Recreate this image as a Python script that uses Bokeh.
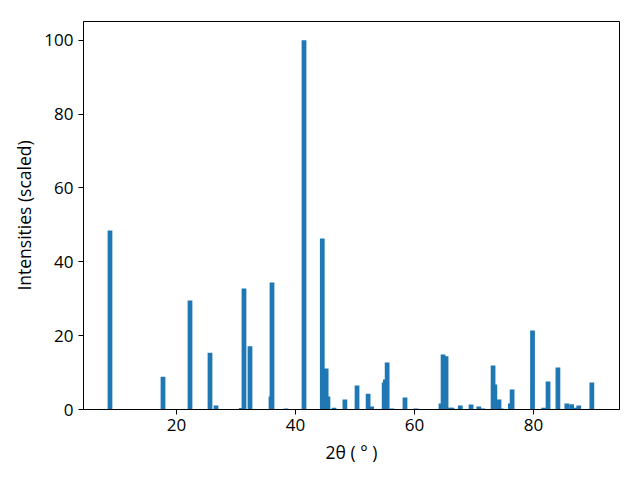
from bokeh.plotting import figure
from bokeh.models import Range1d, FixedTicker
from bokeh.embed import file_html
from bokeh.resources import INLINE

two_theta = [8.82, 17.73, 22.27, 25.63, 26.64, 30.9, 31.34, 32.35, 35.88, 36.05,
             38.4, 41.43, 44.5, 45.15, 45.45, 46.47, 48.3, 50.34, 52.2, 52.8,
             54.9, 55.1, 55.4, 56.2, 58.4, 60.25, 64.45, 64.8, 65.3, 66.0,
             66.3, 67.7, 69.5, 70.8, 71.5, 73.2, 73.5, 74.2, 74.6, 76.1,
             76.4, 79.83, 81.7, 82.44, 84.1, 85.6, 86.4, 86.9, 87.6, 89.8]
intensity = [48.5, 8.9, 29.5, 15.4, 1.1, 0.4, 32.8, 17.1, 3.5, 34.4,
             0.3, 100.0, 46.3, 11.1, 3.5, 0.5, 2.7, 6.5, 4.3, 0.8,
             7.3, 8.1, 12.7, 0.3, 3.25, 0.3, 1.6, 14.9, 14.4, 0.5,
             0.5, 1.1, 1.35, 0.8, 0.3, 11.9, 6.8, 2.7, 0.3, 1.6,
             5.4, 21.4, 0.5, 7.6, 11.4, 1.6, 1.4, 0.5, 1.1, 7.3]
x_ticks = [20, 40, 60, 80]
y_ticks = [0, 20, 40, 60, 80, 100]

p = figure(output_backend="svg", toolbar_location=None,
           frame_width=536, frame_height=388,
           x_range=Range1d(4.37, 94.45), y_range=Range1d(0, 105.1))
p.min_border_left = 83
p.min_border_right = 21
p.min_border_top = 21
p.min_border_bottom = 71
p.background_fill_color = "white"
p.border_fill_color = "white"
p.outline_line_color = "black"
p.outline_line_width = 1
p.xgrid.visible = False
p.ygrid.visible = False

p.vbar(x=two_theta, top=intensity, bottom=0, width=0.8,
       fill_color="#1f77b4", line_color=None)

FONT = "Open Sans"
for ax in (p.xaxis[0], p.yaxis[0]):
    ax.axis_line_color = "black"
    ax.major_tick_line_color = "black"
    ax.major_tick_out = 5
    ax.major_tick_in = 0
    ax.minor_tick_line_color = None
    ax.major_label_text_font = FONT
    ax.major_label_text_font_size = "17px"
    ax.major_label_text_color = "black"
    ax.axis_label_text_font = FONT
    ax.axis_label_text_font_size = "17.5px"
    ax.axis_label_text_font_style = "normal"
    ax.axis_label_text_color = "black"

p.xaxis.ticker = FixedTicker(ticks=x_ticks)
p.yaxis.ticker = FixedTicker(ticks=y_ticks)
p.xaxis.axis_label = "2θ ( ° )"
p.yaxis.axis_label = "Intensities (scaled)"
p.xaxis.major_label_standoff = 4
p.yaxis.major_label_standoff = 5
p.xaxis.axis_label_standoff = 6
p.yaxis.axis_label_standoff = 5

open("out.html", "w").write(file_html(p, INLINE))
